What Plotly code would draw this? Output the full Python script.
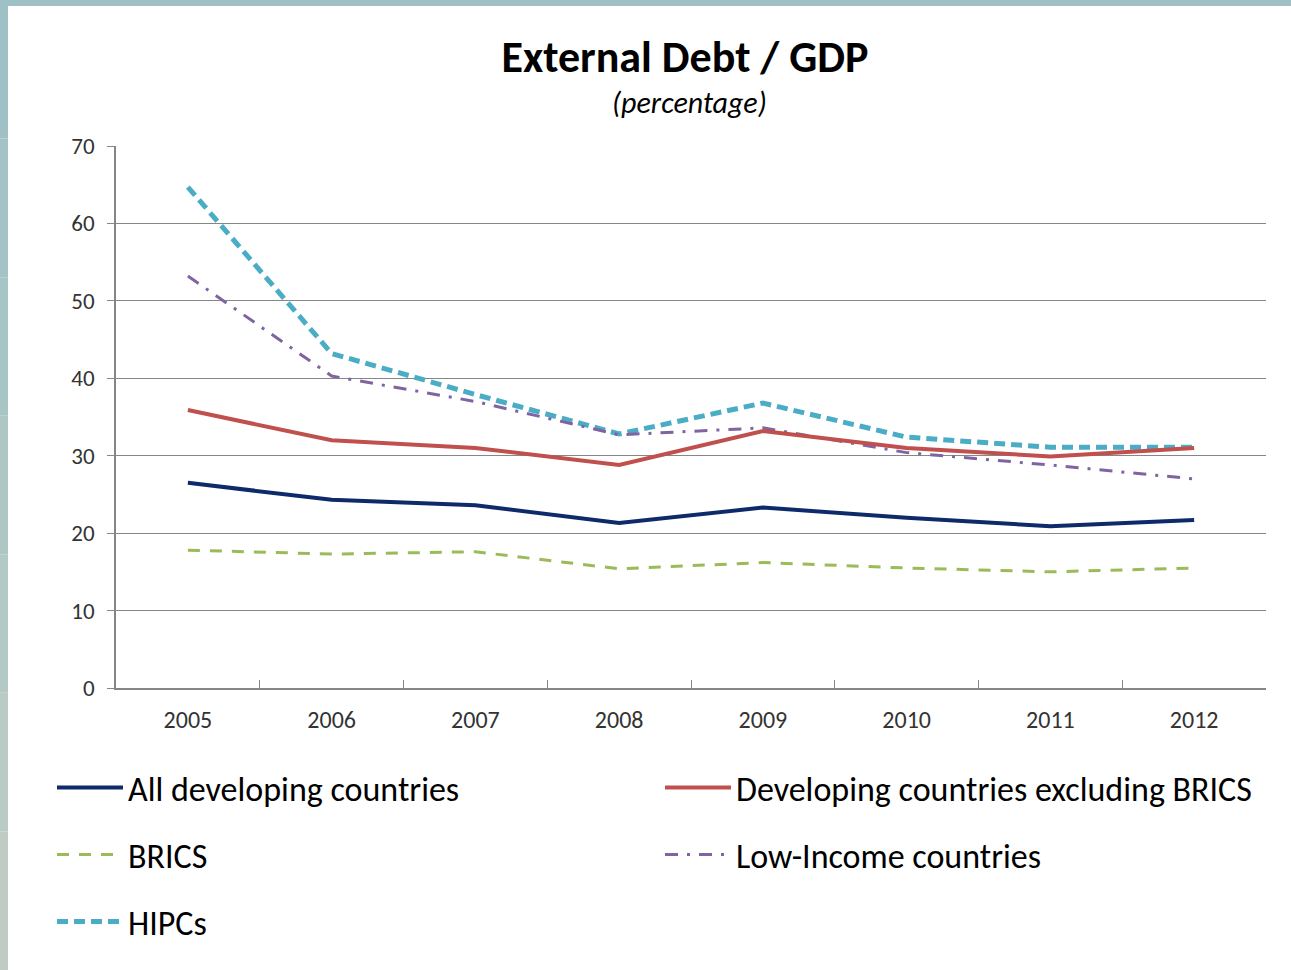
import plotly.graph_objects as go

years = ["2005", "2006", "2007", "2008", "2009", "2010", "2011", "2012"]

all_developing = [26.5, 24.3, 23.6, 21.3, 23.3, 22.0, 20.9, 21.7]
excl_brics = [35.9, 32.0, 31.0, 28.8, 33.2, 31.0, 29.9, 31.0]
brics = [17.8, 17.3, 17.6, 15.4, 16.2, 15.5, 15.0, 15.5]
low_income = [53.2, 40.3, 37.0, 32.7, 33.6, 30.4, 28.8, 27.0]
hipcs = [64.7, 43.2, 37.9, 32.8, 36.8, 32.4, 31.1, 31.1]

W, H = 1291, 970
ML, MR, MT, MB = 116, 25, 146, 282
PW, PH = W - ML - MR, H - MT - MB
FONT = "Carlito, Lato, 'Open Sans', sans-serif"


def px_x(px):
    return (px - ML) / PW


def px_y(py):
    return (H - MB - py) / PH


fig = go.Figure()

# name, values, colour, width, dash, legend id, legend left (px), legend row centre (px)
series = [
    ("All developing countries", all_developing, "#0e2a6a", 4, "solid", "legend", 52, 788),
    ("Developing countries excluding BRICS", excl_brics, "#c0504d", 4, "solid", "legend2", 660, 788),
    ("BRICS", brics, "#9bbb59", 3, "12px,10px", "legend3", 52, 855),
    ("Low-Income countries", low_income, "#8064a2", 3, "13px,9px,3px,9px", "legend4", 660, 855),
    ("HIPCs", hipcs, "#4bacc6", 5, "11px,6px", "legend5", 52, 922),
]
# draw lower series last so the red/navy lines sit on top
for i in [4, 3, 2, 1, 0]:
    name, vals, color, width, dash, leg, _, _ = series[i]
    fig.add_trace(go.Scatter(
        x=years, y=vals, name=name, mode="lines",
        line=dict(color=color, width=width, dash=dash),
        legend=leg, showlegend=True,
    ))

legends = {}
for name, _, _, _, _, leg, lx, ly in series:
    legends[leg] = dict(
        orientation="h", xref="container", yref="container",
        x=lx / W, y=1 - ly / H, xanchor="left", yanchor="middle",
        font=dict(family=FONT, size=34, color="#000000"),
        bgcolor="rgba(0,0,0,0)", itemwidth=66, visible=True,
    )

frame = "#9fc1c6"
shapes = [
    dict(type="rect", xref="paper", yref="paper",
         x0=px_x(0), x1=px_x(W), y0=px_y(6), y1=px_y(0),
         fillcolor=frame, line=dict(width=0), layer="above"),
]
# left edge band, fading toward grey-green at the bottom
bands = ["#9fc1c6", "#a3c3c6", "#a8c5c6", "#aec7c5", "#b4c9c5", "#bacac4", "#bfcbc3"]
n = len(bands)
for k, c in enumerate(bands):
    shapes.append(dict(
        type="rect", xref="paper", yref="paper",
        x0=px_x(0), x1=px_x(8),
        y0=px_y((k + 1) * H / n), y1=px_y(k * H / n),
        fillcolor=c, line=dict(width=0), layer="above"))

fig.update_layout(
    width=W, height=H,
    showlegend=True,
    margin=dict(l=ML, r=MR, t=MT, b=MB, autoexpand=False),
    paper_bgcolor="white", plot_bgcolor="white",
    font=dict(family=FONT, color="#333333"),
    title=dict(
        text="<b>External Debt / GDP</b>",
        x=685 / W, xanchor="center", xref="container",
        y=1 - 57 / H, yanchor="middle", yref="container",
        font=dict(family=FONT, size=44, color="#000000"),
    ),
    annotations=[dict(
        text="<i>(percentage)</i>", xref="paper", yref="paper",
        x=px_x(689), y=px_y(102), xanchor="center", yanchor="middle",
        showarrow=False, font=dict(family=FONT, size=30, color="#000000"),
    )],
    xaxis=dict(
        type="category", range=[-0.5, 7.5], automargin=False,
        showline=True, linecolor="#868686", linewidth=1.5,
        ticks="inside", tickson="boundaries", ticklen=8, tickcolor="#868686",
        showgrid=False, zeroline=False,
        tickfont=dict(family=FONT, size=24, color="#333333"),
        ticklabelstandoff=9,
    ),
    yaxis=dict(
        range=[0, 70], tickvals=[0, 10, 20, 30, 40, 50, 60, 70], automargin=False,
        showline=True, linecolor="#868686", linewidth=1.5,
        ticks="outside", ticklen=7, tickcolor="#868686",
        showgrid=True, gridcolor="#868686", gridwidth=1.2,
        zeroline=False,
        tickfont=dict(family=FONT, size=23, color="#333333"),
        ticklabelstandoff=8,
    ),
    shapes=shapes,
    **legends,
)

fig.write_html("out.html")
